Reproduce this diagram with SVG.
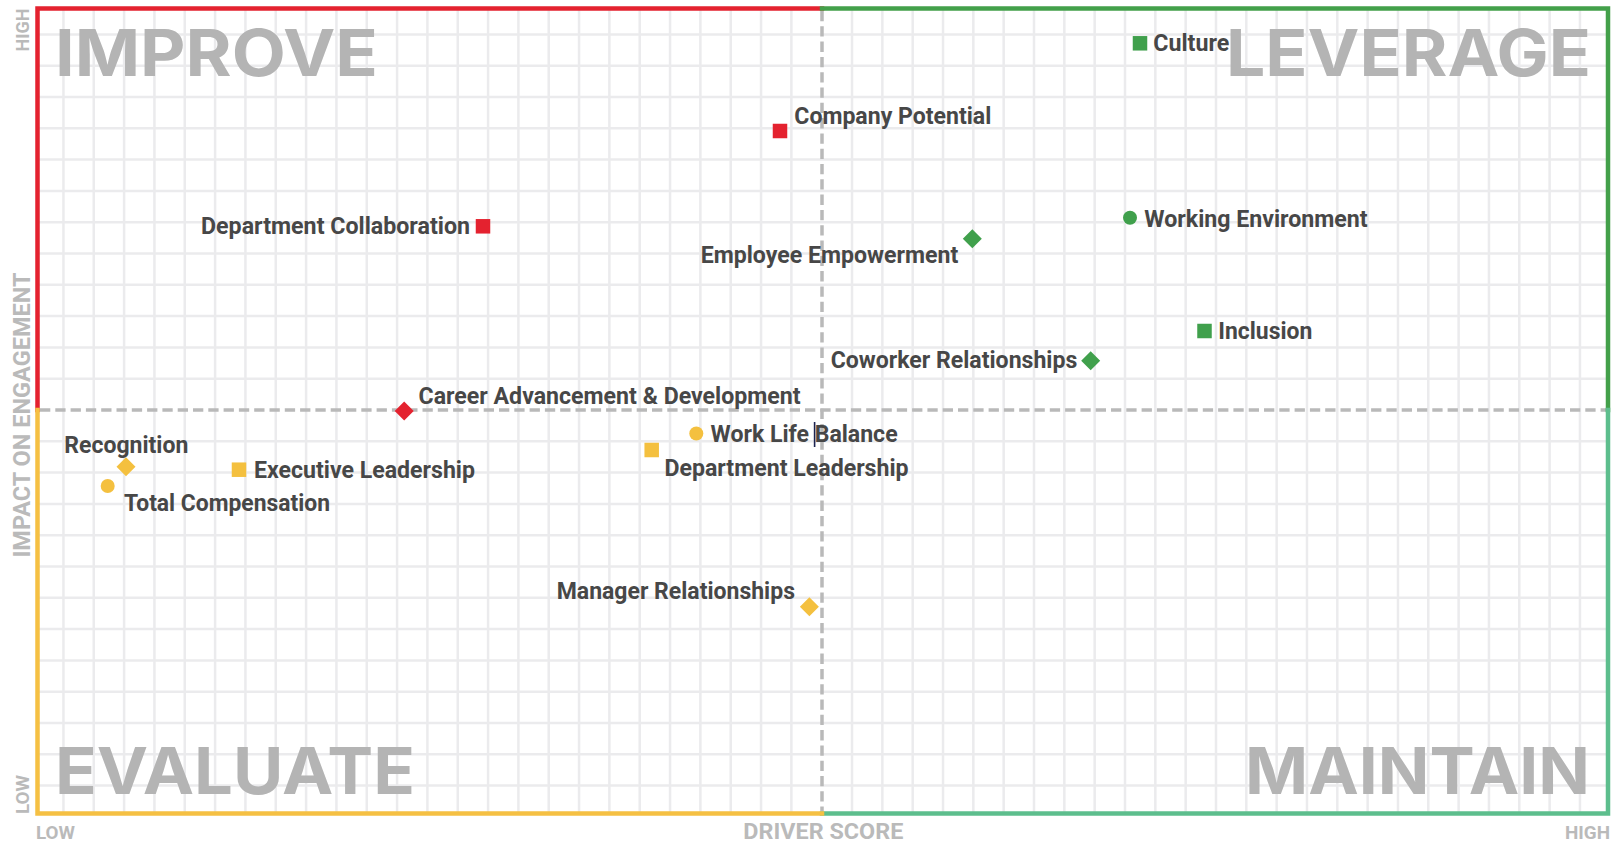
<svg xmlns="http://www.w3.org/2000/svg" xmlns:xlink="http://www.w3.org/1999/xlink" width="1611" height="842" viewBox="0 0 1611 842">
<style>
.grid{stroke:#ebebed;stroke-width:2.5;fill:none}
.dash{stroke:#b9b9b9;stroke-width:3.5;stroke-dasharray:10.3 5;fill:none}
.fr{stroke-width:4.5;fill:none;stroke-linecap:square}
.quad{font-family:Inter,"Open Sans","Liberation Sans",sans-serif;font-weight:700;font-size:65px;fill:#b4b4b4}
.axis{font-family:Roboto,"Liberation Sans",sans-serif;font-weight:700;fill:#bababa}
.lbl{font-family:Roboto,"Liberation Sans",sans-serif;font-weight:700;font-size:23px;fill:#474747}
.red{fill:#e4222f}
.green{fill:#40a04c}
.yellow{fill:#f4c03f}
</style>
<defs>
<rect id="sq" x="-7.25" y="-7.25" width="14.5" height="14.5"/>
<path id="dm" d="M0-9.5L9.5 0 0 9.5-9.5 0Z"/>
<circle id="ci" r="7"/>
</defs>
<rect width="1611" height="842" fill="#ffffff"/>
<g id="grid" class="grid">
<path d="M63.45 10V812M93.78 10V812M124.11 10V812M154.44 10V812M184.77 10V812M215.1 10V812M245.43 10V812M275.76 10V812M306.09 10V812M336.42 10V812M366.75 10V812M397.08 10V812M427.41 10V812M457.74 10V812M488.07 10V812M518.4 10V812M548.73 10V812M579.06 10V812M609.39 10V812M639.72 10V812M670.05 10V812M700.38 10V812M730.71 10V812M761.04 10V812M791.37 10V812M852.03 10V812M882.36 10V812M912.69 10V812M943.02 10V812M973.35 10V812M1003.68 10V812M1034.01 10V812M1064.34 10V812M1094.67 10V812M1125 10V812M1155.33 10V812M1185.66 10V812M1215.99 10V812M1246.32 10V812M1276.65 10V812M1306.98 10V812M1337.31 10V812M1367.64 10V812M1397.97 10V812M1428.3 10V812M1458.63 10V812M1488.96 10V812M1519.29 10V812M1549.62 10V812M1579.95 10V812"/>
<path d="M39 34.4H1606M39 65.7H1606M39 97H1606M39 128.3H1606M39 159.6H1606M39 190.9H1606M39 222.2H1606M39 253.5H1606M39 284.8H1606M39 316.1H1606M39 347.4H1606M39 378.7H1606M39 441.3H1606M39 472.6H1606M39 503.9H1606M39 535.2H1606M39 566.5H1606M39 597.8H1606M39 629.1H1606M39 660.4H1606M39 691.7H1606M39 723H1606M39 754.3H1606M39 785.6H1606"/>
</g>
<g id="quadrant-titles">
<text class="quad" x="55" y="76" textLength="323" lengthAdjust="spacingAndGlyphs">IMPROVE</text>
<text class="quad" x="1226" y="76" textLength="365" lengthAdjust="spacingAndGlyphs">LEVERAGE</text>
<text class="quad" x="55" y="794" textLength="360" lengthAdjust="spacingAndGlyphs">EVALUATE</text>
<text class="quad" x="1245" y="794" textLength="345" lengthAdjust="spacingAndGlyphs">MAINTAIN</text>
</g>
<g id="dividers">
<path class="dash" d="M40 410H1606"/>
<path class="dash" d="M822 11V811"/>
</g>
<g id="frame">
<path class="fr" stroke="#e4222f" d="M37.5 410V8.5H822"/>
<path class="fr" stroke="#43a04a" d="M822 8.5H1608V410"/>
<path class="fr" stroke="#5dbe8d" d="M1608 410V813.5H822"/>
<path class="fr" stroke="#f5c043" d="M822 813.5H37.5V410"/>
</g>
<g id="axis-labels">
<text class="axis" font-size="18.5" transform="translate(28.5 30) rotate(-90)" text-anchor="middle" textLength="43" lengthAdjust="spacingAndGlyphs">HIGH</text>
<text class="axis" font-size="18.5" transform="translate(29 794.5) rotate(-90)" text-anchor="middle" textLength="39" lengthAdjust="spacingAndGlyphs">LOW</text>
<text class="axis" font-size="23" transform="translate(29.5 415) rotate(-90)" text-anchor="middle" textLength="285" lengthAdjust="spacingAndGlyphs">IMPACT ON ENGAGEMENT</text>
<text class="axis" font-size="18" x="36" y="838.5" textLength="39" lengthAdjust="spacingAndGlyphs">LOW</text>
<text class="axis" font-size="21.5" x="743.3" y="838.5" textLength="160" lengthAdjust="spacingAndGlyphs">DRIVER SCORE</text>
<text class="axis" font-size="18" x="1565" y="838.5" textLength="45" lengthAdjust="spacingAndGlyphs">HIGH</text>
</g>
<g id="company-potential"><use xlink:href="#sq" class="red" x="780" y="131"/><text class="lbl" x="794.3" y="124.3" textLength="197" lengthAdjust="spacingAndGlyphs">Company Potential</text></g>
<g id="department-collaboration"><use xlink:href="#sq" class="red" x="483" y="226.3"/><text class="lbl" x="201" y="234.3" textLength="269" lengthAdjust="spacingAndGlyphs">Department Collaboration</text></g>
<g id="career-advancement"><use xlink:href="#dm" class="red" x="404.2" y="411"/><text class="lbl" x="418.6" y="403.5" textLength="382" lengthAdjust="spacingAndGlyphs">Career Advancement &amp; Development</text></g>
<g id="culture"><use xlink:href="#sq" class="green" x="1140" y="43.3"/><text class="lbl" x="1153.3" y="50.7" textLength="76" lengthAdjust="spacingAndGlyphs">Culture</text></g>
<g id="working-environment"><use xlink:href="#ci" class="green" x="1130" y="217.7"/><text class="lbl" x="1144.3" y="226.7" textLength="223.4" lengthAdjust="spacingAndGlyphs">Working Environment</text></g>
<g id="employee-empowerment"><use xlink:href="#dm" class="green" x="972.3" y="238.7"/><text class="lbl" x="700.7" y="262.7" textLength="257.6" lengthAdjust="spacingAndGlyphs">Employee Empowerment</text></g>
<g id="inclusion"><use xlink:href="#sq" class="green" x="1204.5" y="331"/><text class="lbl" x="1218.3" y="339.3" textLength="94" lengthAdjust="spacingAndGlyphs">Inclusion</text></g>
<g id="coworker-relationships"><use xlink:href="#dm" class="green" x="1090.7" y="360.7"/><text class="lbl" x="830.7" y="368.3" textLength="246.6" lengthAdjust="spacingAndGlyphs">Coworker Relationships</text></g>
<g id="recognition"><use xlink:href="#dm" class="yellow" x="126" y="466.7"/><text class="lbl" x="64.3" y="452.7" textLength="124" lengthAdjust="spacingAndGlyphs">Recognition</text></g>
<g id="total-compensation"><use xlink:href="#ci" class="yellow" x="107.7" y="486"/><text class="lbl" x="124" y="510.7" textLength="206" lengthAdjust="spacingAndGlyphs">Total Compensation</text></g>
<g id="executive-leadership"><use xlink:href="#sq" class="yellow" x="239" y="469.7"/><text class="lbl" x="254" y="477.7" textLength="221" lengthAdjust="spacingAndGlyphs">Executive Leadership</text></g>
<g id="work-life-balance"><use xlink:href="#ci" class="yellow" x="696.3" y="433.5"/><text class="lbl" x="710.6" y="441.5" textLength="187" lengthAdjust="spacingAndGlyphs">Work Life Balance</text><path d="M814.6 422V447" stroke="#1c2350" stroke-width="1.6"/></g>
<g id="department-leadership"><use xlink:href="#sq" class="yellow" x="651.7" y="450"/><text class="lbl" x="664.4" y="475.5" textLength="244.2" lengthAdjust="spacingAndGlyphs">Department Leadership</text></g>
<g id="manager-relationships"><use xlink:href="#dm" class="yellow" x="809.4" y="606.7"/><text class="lbl" x="556.7" y="598.5" textLength="238.3" lengthAdjust="spacingAndGlyphs">Manager Relationships</text></g>
</svg>
